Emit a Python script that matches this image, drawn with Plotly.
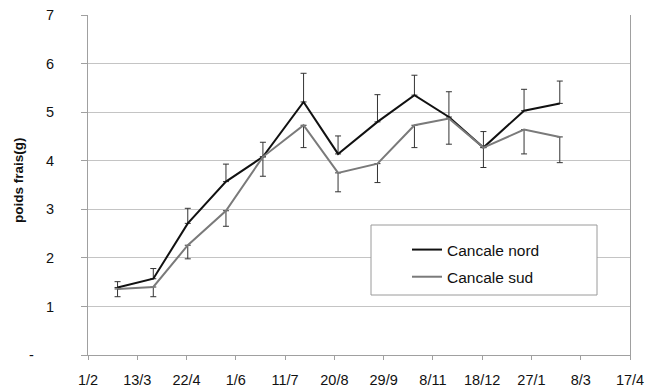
import plotly.graph_objects as go

# ---- data ----
dates = ["1998-02-25", "1998-03-26", "1998-04-23", "1998-05-24", "1998-06-23",
         "1998-07-26", "1998-08-23", "1998-09-24", "1998-10-24", "1998-11-21",
         "1998-12-19", "1999-01-21", "1999-02-19"]
nord = [1.39, 1.57, 2.71, 3.57, 4.08, 5.21, 4.14, 4.80, 5.35, 4.90, 4.27, 5.03, 5.18]
nord_err = [0.12, 0.21, 0.31, 0.36, 0.30, 0.59, 0.37, 0.56, 0.41, 0.52, 0.33, 0.44, 0.46]
sud = [1.36, 1.40, 2.26, 2.97, 4.08, 4.73, 3.75, 3.94, 4.73, 4.87, 4.27, 4.64, 4.49]
sud_err = [0.16, 0.20, 0.28, 0.32, 0.40, 0.46, 0.39, 0.39, 0.46, 0.53, 0.41, 0.50, 0.53]

x_tickvals = ["1998-02-01", "1998-03-13", "1998-04-22", "1998-06-01", "1998-07-11",
              "1998-08-20", "1998-09-29", "1998-11-08", "1998-12-18", "1999-01-27",
              "1999-03-08", "1999-04-17"]
x_ticktext = ["1/2", "13/3", "22/4", "1/6", "11/7", "20/8", "29/9", "8/11",
              "18/12", "27/1", "8/3", "17/4"]
y_tickvals = [0, 1, 2, 3, 4, 5, 6, 7]
y_ticktext = ["-\u00a0\u00a0\u00a0\u00a0\u00a0", "1", "2", "3", "4", "5", "6", "7"]

FONT = "Arial, 'Liberation Sans', sans-serif"

fig = go.Figure()
fig.add_trace(go.Scatter(
    x=dates, y=nord, name="Cancale nord", mode="lines", legendgroup="n",
    line=dict(color="#111111", width=2),
    error_y=dict(type="data", symmetric=False, array=nord_err,
                 arrayminus=[0] * len(nord_err), color="#333333",
                 thickness=1, width=3),
))
fig.add_trace(go.Scatter(
    x=dates, y=sud, name="Cancale sud", mode="lines", legendgroup="s",
    line=dict(color="#7a7a7a", width=2),
    error_y=dict(type="data", symmetric=False, array=[0] * len(sud_err),
                 arrayminus=sud_err, color="#333333",
                 thickness=1, width=3),
))

# legend box
fig.add_shape(type="rect", xref="paper", yref="paper",
              x0=(371 - 88) / 542, x1=(597 - 88) / 542,
              y0=(355 - 295) / 340, y1=(355 - 225) / 340,
              line=dict(color="#9a9a9a", width=1), fillcolor="white", layer="above")

fig.add_annotation(text="<b>poids frais(g)</b>", xref="paper", yref="paper",
                   x=(18 - 88) / 542, y=(355 - 180) / 340, textangle=-90,
                   xanchor="center", yanchor="middle",
                   showarrow=False, font=dict(family=FONT, size=13.5, color="#111"))

fig.update_layout(
    width=646, height=390,
    margin=dict(l=88, r=16, t=15, b=35, autoexpand=False),
    paper_bgcolor="white", plot_bgcolor="white",
    font=dict(family=FONT, size=14.5, color="#111111"),
    showlegend=True,
    legend=dict(x=(407 - 88) / 542, y=(355 - 233) / 340, xanchor="left", yanchor="top",
                bgcolor="rgba(0,0,0,0)", borderwidth=0,
                font=dict(family=FONT, size=15.5, color="#111"),
                itemwidth=30, tracegroupgap=4),
    xaxis=dict(type="date", range=["1998-02-01", "1999-04-17"],
               tickvals=x_tickvals, ticktext=x_ticktext, automargin=False,
               showgrid=False, showline=True, linecolor="#a0a0a0", linewidth=1,
               mirror=False, ticks="outside", ticklen=4, tickcolor="#a0a0a0",
               ticklabelstandoff=8, zeroline=False),
    yaxis=dict(range=[0, 7], tickvals=y_tickvals, ticktext=y_ticktext, automargin=False,
               showgrid=True, gridcolor="#c4c4c4", gridwidth=1,
               showline=True, linecolor="#a0a0a0", linewidth=1, mirror=True,
               ticks="outside", ticklen=6, tickcolor="#a0a0a0",
               ticklabelstandoff=24, zeroline=False),
)

fig.write_html("out.html")
